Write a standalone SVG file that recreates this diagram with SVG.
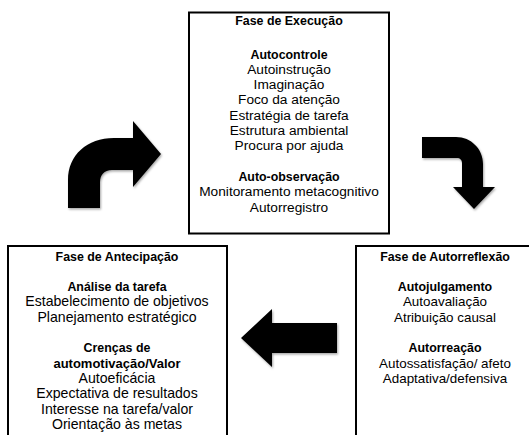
<svg xmlns="http://www.w3.org/2000/svg" width="529" height="435" viewBox="0 0 529 435">
<defs>
<filter id="sh" x="-10%" y="-10%" width="130%" height="130%">
<feDropShadow dx="1" dy="1.5" stdDeviation="1.2" flood-color="#000" flood-opacity="0.35"/>
</filter>
</defs>
<style>
.box{fill:#fff;stroke:#000;stroke-width:2}
text{font-family:"Liberation Sans",Arial,sans-serif;font-size:13.4px;fill:#000;text-anchor:middle}
#execucao text{font-size:13.7px}
#antecipacao text{font-size:14.1px}
text.b,#execucao text.b,#antecipacao text.b{font-weight:bold;font-size:12.4px}
.arrow{fill:#000;filter:url(#sh)}
</style>
<rect width="529" height="435" fill="#fff"/>
<g id="execucao">
<rect class="box" x="189" y="12.5" width="200" height="221"/>
<text class="b" x="289" y="25">Fase de Execução</text>
<text class="b" x="289" y="58.5">Autocontrole</text>
<text x="289" y="73.8">Autoinstrução</text>
<text x="289" y="89.1">Imaginação</text>
<text x="289" y="104.4">Foco da atenção</text>
<text x="289" y="119.7">Estratégia de tarefa</text>
<text x="289" y="135">Estrutura ambiental</text>
<text x="289" y="150.3">Procura por ajuda</text>
<text class="b" x="289" y="181">Auto-observação</text>
<text x="289" y="196.3">Monitoramento metacognitivo</text>
<text x="289" y="211.6">Autorregistro</text>
</g>
<g id="antecipacao">
<rect class="box" x="8" y="246" width="219" height="200"/>
<text class="b" x="117" y="260.5">Fase de Antecipação</text>
<text class="b" x="117" y="291">Análise da tarefa</text>
<text x="117" y="306.3">Estabelecimento de objetivos</text>
<text x="117" y="321.6">Planejamento estratégico</text>
<text class="b" x="117" y="352.3">Crenças de</text>
<text class="b" x="117" y="367.6" style="font-size:13px">automotivação/Valor</text>
<text x="117" y="382.9">Autoeficácia</text>
<text x="117" y="398.2">Expectativa de resultados</text>
<text x="117" y="413.5">Interesse na tarefa/valor</text>
<text x="117" y="428.8">Orientação às metas</text>
</g>
<g id="autorreflexao">
<rect class="box" x="356" y="246" width="190" height="200"/>
<text class="b" x="445" y="260.5">Fase de Autorreflexão</text>
<text class="b" x="445" y="291">Autojulgamento</text>
<text x="445" y="306.3">Autoavaliação</text>
<text x="445" y="321.6">Atribuição causal</text>
<text class="b" x="445" y="352.3">Autorreação</text>
<text x="445" y="367.6">Autossatisfação/ afeto</text>
<text x="445" y="382.9">Adaptativa/defensiva</text>
</g>
<g id="connectors">
<path class="arrow" d="M68 208 L68 180 C68 155 87 138 114 138 L133 138 L133 121 L161 154 L133 187 L133 170 L112 170 C104 170 100 175 100 182 L100 208 Z"/>
<path class="arrow" d="M422 137 L456 137 C471 137 483 149 483 164 L483 187 L495 187 L474 209 L453 187 L462 187 L462 163 C462 160 460 158 457 158 L422 158 Z"/>
<path class="arrow" d="M241 338 L272 309 L272 323 L337 323 L337 353 L272 353 L272 367 Z"/>
</g>
</svg>
